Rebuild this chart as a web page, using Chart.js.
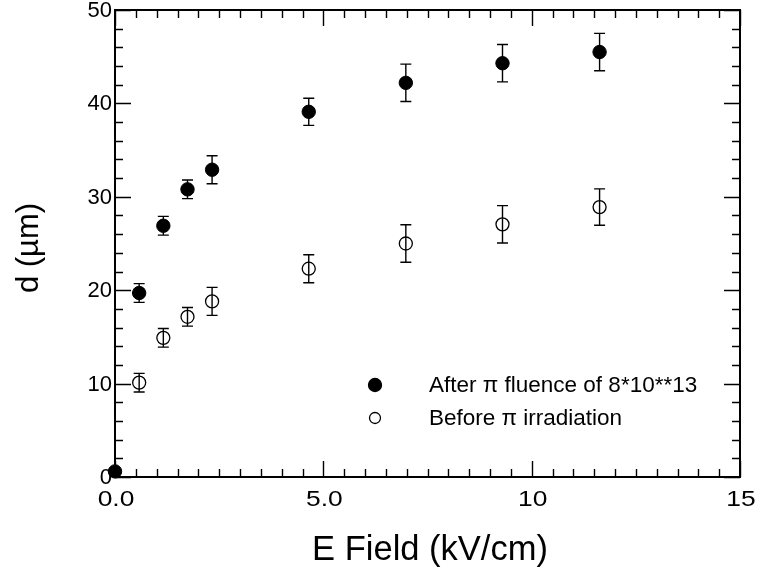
<!DOCTYPE html>
<html>
<head>
<meta charset="utf-8">
<script src="https://cdn.jsdelivr.net/npm/chart.js@4.4.1/dist/chart.umd.min.js"></script>
<style>
html,body{margin:0;padding:0;background:#fff;}
#wrap{width:759px;height:571px;position:relative;}
</style>
</head>
<body>
<div id="wrap"><canvas id="c" width="759" height="571"></canvas></div>
<script>
// ---- data ----
const fieldAfter = [0.0, 0.58, 1.16, 1.74, 2.33, 4.65, 6.98, 9.30, 11.63];
const dAfter     = [0.6, 19.7, 26.9, 30.8, 32.9, 39.1, 42.2, 44.3, 45.5];
const errAfter   = [0,   1.0,  1.0,  1.0,  1.5,  1.45, 2.0,  2.0,  2.0];
const fieldBefore = [0.58, 1.16, 1.74, 2.33, 4.65, 6.98, 9.30, 11.63];
const dBefore     = [10.1, 14.9, 17.15, 18.8, 22.3, 25.0, 27.05, 28.9];
const errBefore   = [1.0,  1.0,  1.0,  1.5,  1.5,  2.0,  2.0,   1.95];
const labelAfter = "After \u03c0 fluence of 8*10**13";
const labelBefore = "Before \u03c0 irradiation";
const xTitle = "E Field (kV/cm)";
const yTitle = "d (\u00b5m)";
const xTickLabels = {0:"0.0", 5:"5.0", 10:"10", 15:"15"};
const yTickLabels = {0:"0", 10:"10", 20:"20", 30:"30", 40:"40", 50:"50"};

const FONT = "'Liberation Sans', Arial, Helvetica, sans-serif";

const toPts = (xs, ys, es) => xs.map((x, i) => ({x: x, y: ys[i], e: es[i]}));

const framePlugin = {
  id: 'frame',
  beforeDatasetsDraw(chart) {
    const ctx = chart.ctx, xs = chart.scales.x, ys = chart.scales.y;
    ctx.save();
    ctx.strokeStyle = '#000';
    ctx.lineWidth = 1.4;
    chart.data.datasets.forEach(ds => {
      ds.data.forEach(p => {
        if (!p.e) return;
        const px = xs.getPixelForValue(p.x);
        const y1 = ys.getPixelForValue(p.y - p.e);
        const y2 = ys.getPixelForValue(p.y + p.e);
        ctx.beginPath();
        ctx.moveTo(px, y1); ctx.lineTo(px, y2);
        ctx.moveTo(px - 5.5, y1); ctx.lineTo(px + 5.5, y1);
        ctx.moveTo(px - 5.5, y2); ctx.lineTo(px + 5.5, y2);
        ctx.stroke();
      });
    });
    ctx.restore();
  },
  afterDraw(chart) {
    const ctx = chart.ctx, xs = chart.scales.x, ys = chart.scales.y;
    const a = chart.chartArea;
    ctx.save();
    ctx.strokeStyle = '#000';
    // ticks
    ctx.lineWidth = 1.4;
    ctx.beginPath();
    xs.ticks.forEach(t => {
      const v = t.value;
      const major = Math.abs(v / 5 - Math.round(v / 5)) < 1e-6;
      const len = major ? 16 : 8;
      const px = Math.round(xs.getPixelForValue(v)) + 0.5;
      ctx.moveTo(px, a.bottom); ctx.lineTo(px, a.bottom - len);
      ctx.moveTo(px, a.top); ctx.lineTo(px, a.top + len);
    });
    ys.ticks.forEach(t => {
      const v = t.value;
      const major = Math.abs(v / 10 - Math.round(v / 10)) < 1e-6;
      const len = major ? 16 : 8;
      const py = Math.round(ys.getPixelForValue(v)) + 0.5;
      ctx.moveTo(a.left, py); ctx.lineTo(a.left + len, py);
      ctx.moveTo(a.right, py); ctx.lineTo(a.right - len, py);
    });
    ctx.stroke();
    // frame
    ctx.lineWidth = 2;
    ctx.strokeRect(a.left, a.top, a.right - a.left, a.bottom - a.top);

    // tick labels
    ctx.fillStyle = '#000';
    ctx.font = "22px " + FONT;
    ctx.textAlign = 'right';
    ctx.textBaseline = 'middle';
    Object.keys(yTickLabels).forEach(k => {
      const py = ys.getPixelForValue(Number(k));
      ctx.fillText(yTickLabels[k], a.left - 3, py + 1);
    });
    ctx.textAlign = 'center';
    ctx.textBaseline = 'alphabetic';
    Object.keys(xTickLabels).forEach(k => {
      const px = xs.getPixelForValue(Number(k));
      ctx.save();
      ctx.translate(px + 1, 506);
      ctx.scale(1.2, 1);
      ctx.fillText(xTickLabels[k], 0, 0);
      ctx.restore();
    });

    // axis titles
    ctx.font = "34.5px " + FONT;
    ctx.textAlign = 'center';
    ctx.textBaseline = 'alphabetic';
    ctx.fillText(xTitle, 430, 560);
    ctx.save();
    ctx.translate(38, 248);
    ctx.rotate(-Math.PI / 2);
    ctx.font = "31px " + FONT;
    ctx.fillText(yTitle, 0, 0);
    ctx.restore();

    // legend
    ctx.font = "22.5px " + FONT;
    ctx.textAlign = 'left';
    ctx.textBaseline = 'middle';
    const ds = chart.data.datasets;
    const rows = [{y: 385, r: 6.5}, {y: 418, r: 5.5}];
    ds.forEach((d, i) => {
      const row = rows[i];
      ctx.beginPath();
      ctx.arc(375, row.y, row.r, 0, Math.PI * 2);
      ctx.lineWidth = 1.3;
      if (d.backgroundColor !== 'rgba(0,0,0,0)') { ctx.fillStyle = '#000'; ctx.fill(); }
      ctx.stroke();
      ctx.fillStyle = '#000';
      ctx.fillText(d.label, 429, row.y + 1);
    });
    ctx.restore();
  }
};

new Chart(document.getElementById('c'), {
  type: 'scatter',
  data: {
    datasets: [
      {
        label: labelAfter,
        data: toPts(fieldAfter, dAfter, errAfter),
        backgroundColor: '#000',
        borderColor: '#000',
        borderWidth: 1,
        pointRadius: 6.7,
        pointHoverRadius: 6.7,
        clip: false
      },
      {
        label: labelBefore,
        data: toPts(fieldBefore, dBefore, errBefore),
        backgroundColor: 'rgba(0,0,0,0)',
        borderColor: '#000',
        borderWidth: 1.3,
        pointRadius: 6.5,
        pointHoverRadius: 6.5,
        clip: false
      }
    ]
  },
  options: {
    responsive: false,
    animation: false,
    events: [],
    layout: {padding: {left: 0, right: 19, top: 10, bottom: 0}},
    plugins: {legend: {display: false}, tooltip: {enabled: false}},
    scales: {
      x: {
        type: 'linear', min: 0, max: 15,
        ticks: {display: false, stepSize: 0.5},
        grid: {display: false}, border: {display: false},
        afterFit(s) { s.height = 94; }
      },
      y: {
        type: 'linear', min: 0, max: 50,
        ticks: {display: false, stepSize: 2},
        grid: {display: false}, border: {display: false},
        afterFit(s) { s.width = 115; }
      }
    }
  },
  plugins: [framePlugin]
});
</script>
</body>
</html>
